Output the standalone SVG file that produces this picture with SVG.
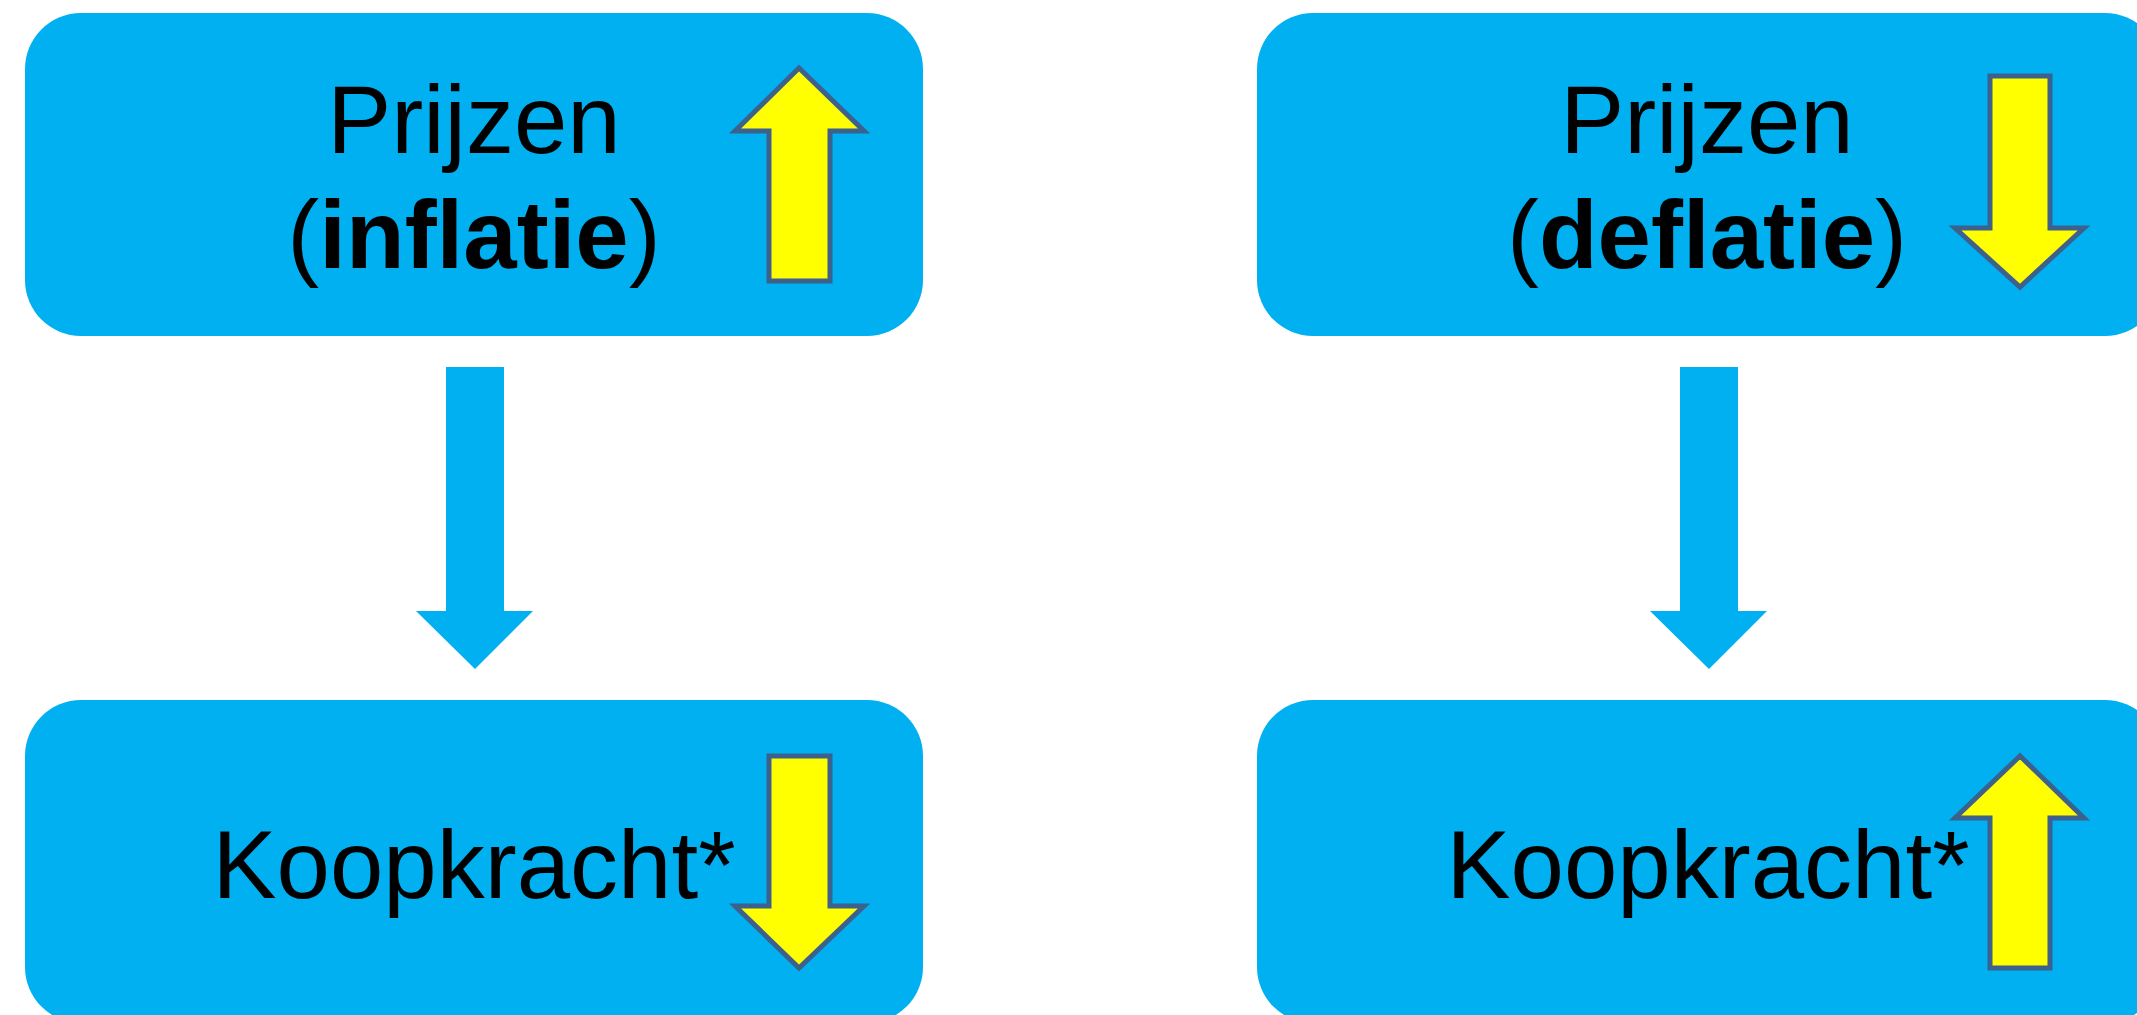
<svg xmlns="http://www.w3.org/2000/svg" width="2137" height="1015" viewBox="0 0 2137 1015">
<style>
.box{fill:#00B0F0}
.ya{fill:#FFFF00;stroke:#3B618C;stroke-width:5;stroke-linejoin:miter}
.conn{fill:#00B0F0}
.t{font-family:"Liberation Sans",Arial,sans-serif;font-size:96px;fill:#000;text-anchor:middle}
.b{font-weight:bold}
</style>
<rect width="2137" height="1015" fill="#FFFFFF"/>
<g id="connectors">
<polygon class="conn" points="446,367 504,367 504,611 533,611 475,669 416,611 446,611"/>
<polygon class="conn" points="1680,367 1738,367 1738,611 1767,611 1709,669 1650,611 1680,611"/>
</g>
<g id="prijzen-inflatie">
<rect class="box" x="25" y="13" width="898" height="323" rx="56" ry="56"/>
<text class="t" x="474" y="153">Prijzen</text>
<text class="t" x="474" y="268">(<tspan class="b">inflatie</tspan>)</text>
<polygon class="ya" points="799,68 864,131 830,131 830,281 769,281 769,131 735,131"/>
</g>
<g id="koopkracht-inflatie">
<rect class="box" x="25" y="700" width="898" height="323" rx="56" ry="56"/>
<text class="t" x="474" y="898">Koopkracht*</text>
<polygon class="ya" points="769,756 830,756 830,906 864,906 799,968 735,906 769,906"/>
</g>
<g id="prijzen-deflatie">
<rect class="box" x="1257" y="13" width="904" height="323" rx="56" ry="56"/>
<text class="t" x="1707" y="153">Prijzen</text>
<text class="t" x="1707" y="268">(<tspan class="b">deflatie</tspan>)</text>
<polygon class="ya" points="1990,76 2050,76 2050,228 2084,228 2020,287 1955,228 1990,228"/>
</g>
<g id="koopkracht-deflatie">
<rect class="box" x="1257" y="700" width="904" height="323" rx="56" ry="56"/>
<text class="t" x="1708" y="898">Koopkracht*</text>
<polygon class="ya" points="2020,756 2084,818 2050,818 2050,968 1990,968 1990,818 1955,818"/>
</g>
</svg>
